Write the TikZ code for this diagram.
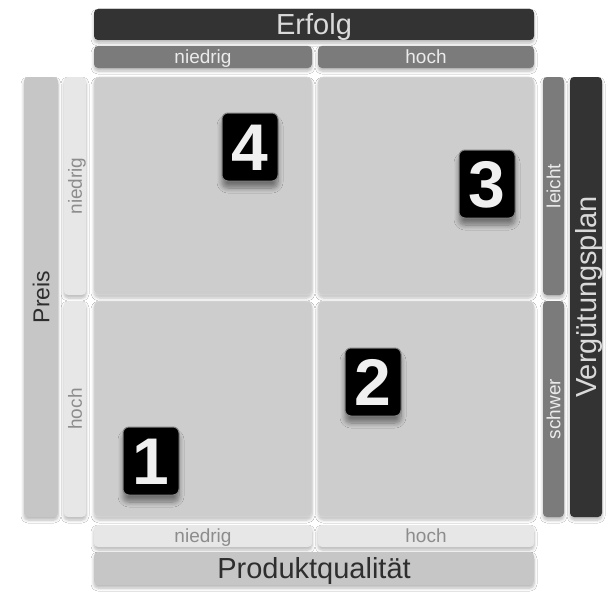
\documentclass[tikz,border=0pt]{standalone}
\usepackage{fontspec}
\setmainfont{Liberation Sans}
\usetikzlibrary{shadows.blur}
\definecolor{darkbar}{HTML}{333333}
\definecolor{darktext}{HTML}{DADADA}
\definecolor{midbar}{HTML}{7B7B7B}
\definecolor{quad}{HTML}{CDCDCD}
\definecolor{quadedge}{HTML}{DADADA}
\definecolor{lightbar}{HTML}{E7E7E7}
\definecolor{lighttext}{HTML}{8C8C8C}
\definecolor{greybar}{HTML}{C6C6C6}
\definecolor{greytext}{HTML}{2E2E2E}
\begin{document}
\begin{tikzpicture}[x=1pt,y=-1pt,
  bar/.style={rounded corners=4pt, inner sep=0pt, text depth=0pt,
    blur shadow={shadow blur steps=6, shadow xshift=0pt, shadow yshift=-3pt, shadow opacity=28, shadow blur radius=3pt}},
  bigfont/.style={font=\fontsize{29}{30}\selectfont, text height=20.8pt},
  midfont/.style={font=\fontsize{23}{24}\selectfont, text height=16.5pt},
  smallfont/.style={font=\fontsize{19}{20}\selectfont, text height=13.7pt},
  darkstyle/.style={bar, fill=darkbar, text=darktext},
  midstyle/.style={bar, fill=midbar, text=white!92!black},
  lightstyle/.style={bar, fill=lightbar, text=lighttext},
  greystyle/.style={bar, fill=greybar, text=greytext},
  quadstyle/.style={rounded corners=5pt, fill=quad, draw=quadedge, line width=0.6pt, inner sep=0pt,
    blur shadow={shadow blur steps=6, shadow xshift=0pt, shadow yshift=-3pt, shadow opacity=25, shadow blur radius=3pt}},
  badge/.style={rounded corners=6pt, fill=black, draw=black!50, line width=1pt,
    minimum width=56pt, minimum height=68pt, inner sep=0pt, text=white!94!black,
    font=\bfseries\fontsize{66}{66}\selectfont, text height=47pt, text depth=0pt,
    blur shadow={shadow blur steps=8, shadow xshift=0pt, shadow yshift=-7pt, shadow opacity=45, shadow blur radius=5pt}}
]
\useasboundingbox[fill=white] (0,0) rectangle (609,594);

% quadrants
\node[quadstyle, minimum width=218pt, minimum height=218pt] (qTL) at (203,186) {};
\node[quadstyle, minimum width=216pt, minimum height=218pt] (qTR) at (426,186) {};
\node[quadstyle, minimum width=218pt, minimum height=216pt] (qBL) at (203,409) {};
\node[quadstyle, minimum width=216pt, minimum height=216pt] (qBR) at (426,409) {};

% top
\node[darkstyle, bigfont, minimum width=440pt, minimum height=31pt] (erfolg) at (314,24.5) {Erfolg};
\node[midstyle, smallfont, minimum width=218pt, minimum height=22pt] (tlow) at (203,57) {niedrig};
\node[midstyle, smallfont, minimum width=216pt, minimum height=22pt] (thigh) at (426,57) {hoch};

% bottom
\node[lightstyle, smallfont, minimum width=218pt, minimum height=22pt] (blow) at (203,536) {niedrig};
\node[lightstyle, smallfont, minimum width=216pt, minimum height=22pt] (bhigh) at (426,536) {hoch};
\node[greystyle, bigfont, minimum width=440pt, minimum height=33pt] (produkt) at (314,568.5) {Produktqualität};

% left
\node[greystyle, midfont, rotate=90, minimum width=440pt, minimum height=34pt] (preis) at (41,297) {Preis};
\node[lightstyle, smallfont, rotate=90, minimum width=218pt, minimum height=22pt] (llow) at (75,186) {niedrig};
\node[lightstyle, smallfont, rotate=90, minimum width=216pt, minimum height=22pt] (lhigh) at (75,409) {hoch};

% right
\node[midstyle, smallfont, rotate=90, minimum width=218pt, minimum height=21pt] (rlight) at (553.5,186) {leicht};
\node[midstyle, smallfont, rotate=90, minimum width=216pt, minimum height=21pt] (rheavy) at (553.5,409) {schwer};
\node[darkstyle, bigfont, rotate=90, minimum width=440pt, minimum height=32pt] (verg) at (586,297) {Vergütungsplan};

% badges
\node[badge] (b4) at (250,147) {4};
\node[badge] (b3) at (487,184) {3};
\node[badge] (b2) at (373,382) {2};
\node[badge] (b1) at (151,461) {1};
\end{tikzpicture}
\end{document}
